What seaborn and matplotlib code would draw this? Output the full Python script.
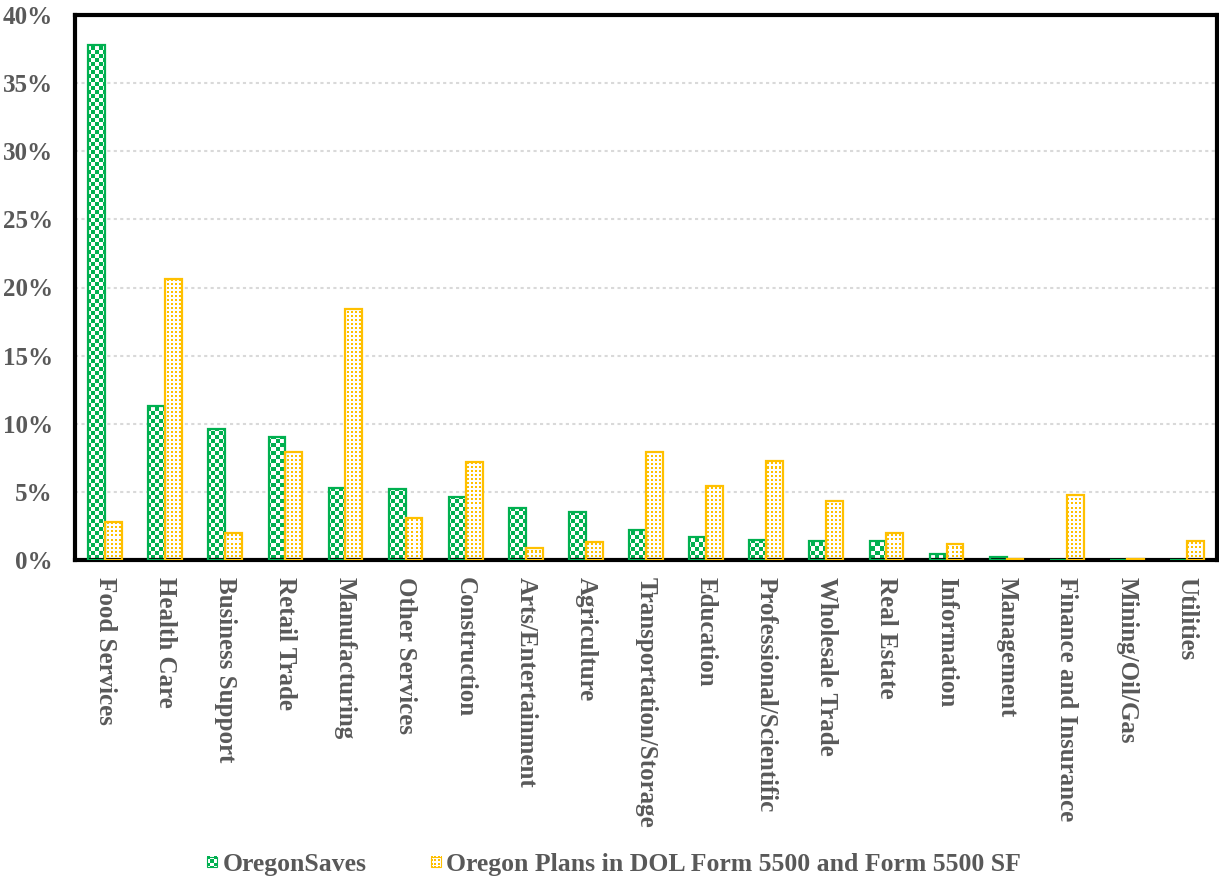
import numpy as np
import pandas as pd
import seaborn as sns
import matplotlib
matplotlib.use("Agg")
import matplotlib.pyplot as plt
from matplotlib.patches import Rectangle, Patch
from matplotlib.legend_handler import HandlerBase
from matplotlib.image import BboxImage
from matplotlib.transforms import Bbox, TransformedBbox

# Share of employers by industry (percent)
industries = [
    "Food Services", "Health Care", "Business Support", "Retail Trade",
    "Manufacturing", "Other Services", "Construction", "Arts/Entertainment",
    "Agriculture", "Transportation/Storage", "Education",
    "Professional/Scientific", "Wholesale Trade", "Real Estate",
    "Information", "Management", "Finance and Insurance", "Mining/Oil/Gas",
    "Utilities",
]
oregonsaves = [37.8, 11.3, 9.6, 9.0, 5.25, 5.2, 4.6, 3.8, 3.5, 2.2, 1.7,
               1.45, 1.4, 1.4, 0.45, 0.25, 0.0, 0.0, 0.0]
dol_plans = [2.8, 20.6, 2.0, 7.9, 18.4, 3.05, 7.2, 0.9, 1.3, 7.9, 5.4,
             7.3, 4.3, 2.0, 1.2, 0.1, 4.8, 0.05, 1.4]
series_names = ["OregonSaves",
                "Oregon Plans in DOL Form 5500 and Form 5500 SF"]
yticks = [0, 5, 10, 15, 20, 25, 30, 35, 40]

GREEN = "#00B050"
YELLOW = "#FFC000"
TEXT = "#595959"

sns.set_theme(style="white")
plt.rcParams["font.family"] = ["Liberation Serif", "DejaVu Serif"]
plt.rcParams["font.weight"] = "bold"

df = pd.DataFrame({
    "industry": industries * 2,
    "share": oregonsaves + dol_plans,
    "plan": [series_names[0]] * len(industries) + [series_names[1]] * len(industries),
})

fig = plt.figure(figsize=(12.19, 8.81), dpi=100)
ax = fig.add_axes([75 / 1219, 1 - 560 / 881, (1217 - 75) / 1219, (560 - 15) / 881])

sns.barplot(data=df, x="industry", y="share", hue="plan",
            palette=[GREEN, YELLOW], width=0.56, ax=ax, legend=False,
            saturation=1, errorbar=None)

ax.set_xlim(-0.5, len(industries) - 0.5)
ax.set_ylim(0, 40)

# Pixel-level fill patterns covering the whole plotting area
W, H = 1142, 545


def rgba(hexcol):
    return np.array(matplotlib.colors.to_rgba(hexcol))


def checker(h, w, cell, col):
    y, x = np.mgrid[0:h, 0:w]
    img = np.ones((h, w, 4))
    mask = ((y // cell + x // cell) % 2) == 0
    img[mask] = rgba(col)
    return img


def dots(h, w, period, size, col):
    y, x = np.mgrid[0:h, 0:w]
    img = np.ones((h, w, 4))
    mask = ((x % period) < size) & ((y % period) < size)
    img[mask] = rgba(col)
    return img


patterns = [checker(H, W, 4, GREEN), dots(H, W, 4, 2, YELLOW)]
colors = [GREEN, YELLOW]

for cont, pat, col in zip(ax.containers, patterns, colors):
    for bar in cont:
        bar.set_facecolor("none")
        bar.set_edgecolor(col)
        bar.set_linewidth(1.6)
        bar.set_zorder(3)
        im = ax.imshow(pat, extent=(-0.5, len(industries) - 0.5, 0, 40),
                       origin="upper", interpolation="nearest",
                       aspect="auto", zorder=2)
        im.set_clip_path(bar)

ax.set_xlim(-0.5, len(industries) - 0.5)
ax.set_ylim(0, 40)

# Axes styling
ax.set_xlabel("")
ax.set_ylabel("")
ax.set_yticks(yticks)
ax.set_yticklabels([f"{t}%" for t in yticks])
ax.yaxis.grid(True, color="#D9D9D9", linewidth=1.5, linestyle=(0, (1.5, 1.6)))
ax.xaxis.grid(False)
ax.set_axisbelow(True)
for sp in ax.spines.values():
    sp.set_visible(True)
    sp.set_color("black")
    sp.set_linewidth(3)
ax.tick_params(axis="both", length=0, colors=TEXT, labelsize=18)
ax.tick_params(axis="y", pad=16)
ax.tick_params(axis="x", pad=12)
for lbl in ax.get_xticklabels():
    lbl.set_rotation(-90)
    lbl.set_ha("center")
    lbl.set_va("top")
    lbl.set_fontweight("bold")
for lbl in ax.get_yticklabels():
    lbl.set_fontweight("bold")


class PatternHandler(HandlerBase):
    def __init__(self, pattern, edge):
        super().__init__()
        self.pattern = pattern
        self.edge = edge

    def create_artists(self, legend, orig_handle, xdescent, ydescent,
                       width, height, fontsize, trans):
        side = min(width, height)
        x0 = -xdescent + (width - side) / 2
        y0 = -ydescent + (height - side) / 2
        bb = TransformedBbox(Bbox.from_bounds(x0, y0, side, side), trans)
        img = BboxImage(bb, interpolation="nearest")
        img.set_data(self.pattern)
        rect = Rectangle((x0, y0), side, side, facecolor="none",
                         edgecolor=self.edge, linewidth=0.8, transform=trans)
        return [img, rect]


h1 = Patch(label=series_names[0])
h2 = Patch(label=series_names[1])
leg = fig.legend(
    handles=[h1, h2], labels=series_names, loc="center",
    bbox_to_anchor=(614 / 1219, 1 - 865 / 881), ncol=2, frameon=False,
    handlelength=0.4, handleheight=0.4, handletextpad=0.2,
    columnspacing=2.5,
    handler_map={h1: PatternHandler(checker(10, 10, 3, GREEN), GREEN),
                 h2: PatternHandler(dots(10, 10, 3, 2, YELLOW), YELLOW)},
    prop={"family": ["Liberation Serif"], "weight": "bold", "size": 18.5},
)
for t in leg.get_texts():
    t.set_color(TEXT)

fig.savefig("out.png", dpi=100)
